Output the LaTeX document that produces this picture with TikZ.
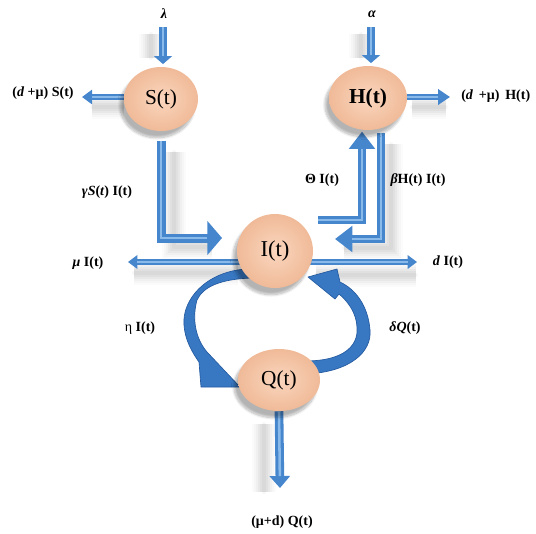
\documentclass[tikz,border=0pt]{standalone}
\usepackage{fontspec}
\setmainfont{Liberation Serif}
\usetikzlibrary{arrows.meta,shapes.geometric,shadows.blur,calc}

\definecolor{peachlight}{RGB}{250,214,190}
\definecolor{peachdark}{RGB}{240,186,152}
\definecolor{flowblue}{RGB}{70,134,204}
\definecolor{flowlight}{RGB}{138,186,234}
\definecolor{loopblue}{RGB}{56,120,194}
\definecolor{loopedge}{RGB}{36,90,160}

\pgfdeclarelayer{haze}
\pgfdeclarelayer{back}
\pgfsetlayers{haze,back,main}

\begin{document}
\begin{tikzpicture}[x=0.75pt,y=-0.75pt,
  state/.style={ellipse, inner sep=0pt, inner color=peachlight, outer color=peachdark,
    font=\fontsize{16}{18}\selectfont,
    blur shadow={shadow xshift=-3pt, shadow yshift=-5pt, shadow opacity=30, shadow blur steps=12}},
  lbl/.style={inner sep=0pt, font=\fontsize{10.5}{12}\selectfont\bfseries},
  bar/.style={draw=flowblue, line width=#1, line join=miter},
  glint/.style={draw=flowlight, line width=#1, line join=miter},
  loop/.style={fill=loopblue, draw=loopedge, line width=0.5pt, line join=round},
  softshadow/.style={draw=black, line width=3pt, draw opacity=0.03, line cap=round, line join=round,
    preaction={draw=black, line width=6pt, draw opacity=0.03},
    preaction={draw=black, line width=9pt, draw opacity=0.03},
    preaction={draw=black, line width=12pt, draw opacity=0.025},
    preaction={draw=black, line width=15pt, draw opacity=0.02},
    preaction={draw=black, line width=18pt, draw opacity=0.015}}
]
\useasboundingbox (0,0) rectangle (536,533);

% compartments
\node[state, minimum width=55.5pt, minimum height=48pt] (S) at (161,99) {S(t)};
\node[state, minimum width=58.5pt, minimum height=48pt,
      font=\fontsize{16}{18}\selectfont\bfseries] (H) at (368,98) {H(t)};
\node[state, minimum width=57pt, minimum height=55.5pt,
      font=\fontsize{17}{19}\selectfont] (I) at (275,251) {I(t)};
\node[state, minimum width=61.5pt, minimum height=46.5pt] (Q) at (279,380) {Q(t)};

% free ends of the flows
\coordinate (lamTop) at (163,27);
\coordinate (alTop) at (371,27);
\coordinate (sOut) at (82,97);
\coordinate (hOut) at (450,97);
\coordinate (sI) at (222,238);
\coordinate (thStart) at (318,220);
\coordinate (bEnd) at (335,239);
\coordinate (muEnd) at (128,262);
\coordinate (dEnd) at (417,262);
\coordinate (qEnd) at (280,488);

% soft shadows under the flows
\begin{pgfonlayer}{haze}
  \draw[softshadow] (151,34) -- (151,58);
  \draw[softshadow] (361,34) -- (361,58);
  \draw[softshadow] (174,152) -- (174,247) -- (212,247);
  \draw[softshadow] (92,107) -- (124,107);
  \draw[softshadow] (412,107) -- (446,107);
  \draw[softshadow] (134,273) -- (238,273);
  \draw[softshadow] (316,275) -- (416,275);
  \draw[softshadow] (391,144) -- (391,248) -- (344,248);
  \draw[softshadow] (264,424) -- (264,492);
\end{pgfonlayer}

\begin{pgfonlayer}{back}
  % inflows
  \draw[bar=6pt, -{Triangle[width=13.5pt,length=6pt]}, shorten >=2pt] (lamTop) -- (lamTop |- S.north);
  \draw[glint=1.8pt, shorten >=8pt] (lamTop) -- (lamTop |- S.north);
  \draw[bar=6pt, -{Triangle[width=13.5pt,length=6pt]}, shorten >=2pt] (alTop) -- (alTop |- H.north);
  \draw[glint=1.8pt, shorten >=8pt] (alTop) -- (alTop |- H.north);

  % removals from S and H
  \draw[bar=4pt, -{Triangle[width=10.5pt,length=7.5pt]}] (S.west |- sOut) -- (sOut);
  \draw[glint=1.2pt, shorten >=7.5pt] (S.west |- sOut) -- (sOut);
  \draw[bar=5pt, -{Triangle[width=11.5pt,length=9pt]}] (H.east |- hOut) -- (hOut);
  \draw[glint=1.5pt, shorten >=9pt] (H.east |- hOut) -- (hOut);

  % S to I
  \draw[bar=6.75pt, -{Triangle[width=25pt,length=11pt]}, shorten <=7pt] (S.south) |- (sI);
  \draw[glint=2pt, shorten <=7pt, shorten >=11pt] (S.south) |- (sI);

  % I to H and H to I
  \draw[bar=5.5pt, -{Triangle[width=19pt,length=13pt]}, shorten >=1pt] (thStart) -| ($(H.south)+(-6,0)$);
  \draw[glint=1.6pt, shorten >=14pt] (thStart) -| ($(H.south)+(-6,0)$);
  \draw[bar=5.5pt, -{Triangle[width=19pt,length=13pt]}, shorten <=2pt] ($(H.south)+(13,0)$) |- (bEnd);
  \draw[glint=1.6pt, shorten <=2pt, shorten >=13pt] ($(H.south)+(13,0)$) |- (bEnd);

  % removals from I
  \draw[bar=4.5pt, -{Triangle[width=10pt,length=7pt]}] ($(I.center)+(0,11)$) -- (muEnd);
  \draw[glint=1.3pt, shorten >=7pt] ($(I.center)+(0,11)$) -- (muEnd);
  \draw[bar=4.5pt, -{Triangle[width=10pt,length=7pt]}] ($(I.center)+(0,11)$) -- (dEnd);
  \draw[glint=1.3pt, shorten >=7pt] ($(I.center)+(0,11)$) -- (dEnd);

  % removal from Q
  \draw[bar=6.5pt, -{Triangle[width=15pt,length=9pt]}] (Q.south) -- (qEnd);
  \draw[glint=1.9pt, shorten >=9pt] (Q.south) -- (qEnd);

  % I to Q (curved, tapering)
  \fill[loop] (246,269) .. controls (205,272) and (182,300) .. (184,325)
     .. controls (185,340) and (192,352) .. (199,362)
     -- (201,387) -- (240,387) -- (207,352)
     .. controls (195,338) and (192,318) .. (197,300)
     .. controls (203,287) and (220,279) .. (252,278) -- cycle;

  % Q to I (curved, tapering)
  \fill[loop] (306,374) .. controls (350,372) and (372,352) .. (370,330)
     .. controls (368,305) and (355,289) .. (340,282)
     -- (337,269) -- (308,277) -- (335,299) -- (339,294)
     .. controls (352,305) and (358,318) .. (357,333)
     .. controls (355,350) and (338,361) .. (305,361) -- cycle;
\end{pgfonlayer}

% rates
\node[lbl] (lamLbl) at (164,14) {\textit{λ}};
\node[lbl] (alLbl) at (372,14) {\textit{α}};
\node[lbl] (sOutLbl) at (43,93) {(\textit{d} +μ) S(t)};
\node[lbl, anchor=west] (hOutLbl) at (461,96) {(\textit{d}\, +μ)\, H(t)};
\node[lbl] (infLbl) at (107,192) {\textit{γS}(\textit{t}) I(t)};
\node[lbl] (thLbl) at (322,180) {Θ I(t)};
\node[lbl] (beLbl) at (418,180) {\textit{β}H(t) I(t)};
\node[lbl] (muLbl) at (88,263) {\textit{μ} I(t)};
\node[lbl] (dLbl) at (448,262) {\textit{d} I(t)};
\node[lbl] (etaLbl) at (140,328) {\mdseries η \bfseries I(t)};
\node[lbl] (deLbl) at (405,328) {\textit{δQ}(t)};
\node[lbl] (qOutLbl) at (282,522) {(μ+d) Q(t)};
\end{tikzpicture}
\end{document}
